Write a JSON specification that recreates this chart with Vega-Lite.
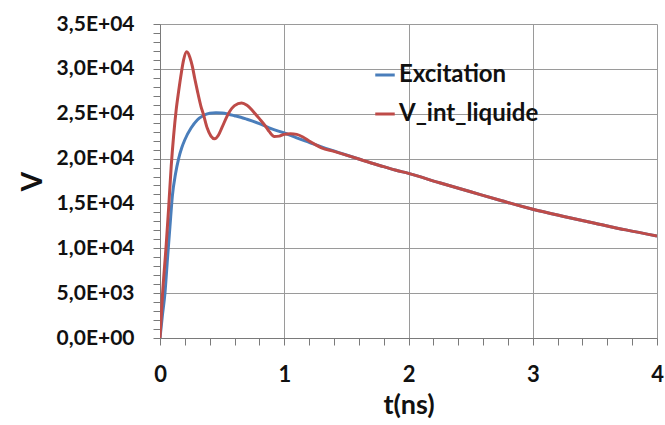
{
  "$schema": "https://vega.github.io/schema/vega-lite/v6.json",
  "width": 497,
  "height": 314,
  "autosize": {"type": "none"},
  "padding": {"left": 160, "top": 24, "right": 8, "bottom": 87},
  "background": "white",
  "config": {"view": {"stroke": null}, "font": "Lato"},
  "data": {"values": [
    {"t": 0, "V": 0, "s": "Excitation"},
    {"t": 0.02, "V": 2600, "s": "Excitation"},
    {"t": 0.04, "V": 5000, "s": "Excitation"},
    {"t": 0.06, "V": 8800, "s": "Excitation"},
    {"t": 0.08, "V": 12400, "s": "Excitation"},
    {"t": 0.1, "V": 15900, "s": "Excitation"},
    {"t": 0.125, "V": 18300, "s": "Excitation"},
    {"t": 0.15, "V": 20000, "s": "Excitation"},
    {"t": 0.175, "V": 21200, "s": "Excitation"},
    {"t": 0.2, "V": 22100, "s": "Excitation"},
    {"t": 0.25, "V": 23400, "s": "Excitation"},
    {"t": 0.3, "V": 24300, "s": "Excitation"},
    {"t": 0.35, "V": 24800, "s": "Excitation"},
    {"t": 0.4, "V": 25050, "s": "Excitation"},
    {"t": 0.45, "V": 25120, "s": "Excitation"},
    {"t": 0.5, "V": 25080, "s": "Excitation"},
    {"t": 0.55, "V": 24950, "s": "Excitation"},
    {"t": 0.6, "V": 24780, "s": "Excitation"},
    {"t": 0.65, "V": 24600, "s": "Excitation"},
    {"t": 0.7, "V": 24380, "s": "Excitation"},
    {"t": 0.8, "V": 23900, "s": "Excitation"},
    {"t": 0.9, "V": 23300, "s": "Excitation"},
    {"t": 1.0, "V": 22850, "s": "Excitation"},
    {"t": 1.1, "V": 22300, "s": "Excitation"},
    {"t": 1.2, "V": 21800, "s": "Excitation"},
    {"t": 1.3, "V": 21300, "s": "Excitation"},
    {"t": 1.4, "V": 20850, "s": "Excitation"},
    {"t": 1.5, "V": 20400, "s": "Excitation"},
    {"t": 1.6, "V": 19950, "s": "Excitation"},
    {"t": 1.7, "V": 19500, "s": "Excitation"},
    {"t": 1.8, "V": 19100, "s": "Excitation"},
    {"t": 1.9, "V": 18700, "s": "Excitation"},
    {"t": 2.0, "V": 18350, "s": "Excitation"},
    {"t": 2.25, "V": 17300, "s": "Excitation"},
    {"t": 2.5, "V": 16300, "s": "Excitation"},
    {"t": 2.75, "V": 15300, "s": "Excitation"},
    {"t": 3.0, "V": 14350, "s": "Excitation"},
    {"t": 3.25, "V": 13550, "s": "Excitation"},
    {"t": 3.5, "V": 12800, "s": "Excitation"},
    {"t": 3.75, "V": 12050, "s": "Excitation"},
    {"t": 4.0, "V": 11370, "s": "Excitation"},
    {"t": 0, "V": 0, "s": "V_int_liquide"},
    {"t": 0.02, "V": 4800, "s": "V_int_liquide"},
    {"t": 0.05, "V": 10400, "s": "V_int_liquide"},
    {"t": 0.07, "V": 14600, "s": "V_int_liquide"},
    {"t": 0.09, "V": 19100, "s": "V_int_liquide"},
    {"t": 0.11, "V": 22600, "s": "V_int_liquide"},
    {"t": 0.13, "V": 25400, "s": "V_int_liquide"},
    {"t": 0.15, "V": 27500, "s": "V_int_liquide"},
    {"t": 0.17, "V": 29400, "s": "V_int_liquide"},
    {"t": 0.19, "V": 31000, "s": "V_int_liquide"},
    {"t": 0.215, "V": 31900, "s": "V_int_liquide"},
    {"t": 0.24, "V": 31300, "s": "V_int_liquide"},
    {"t": 0.26, "V": 30300, "s": "V_int_liquide"},
    {"t": 0.28, "V": 28900, "s": "V_int_liquide"},
    {"t": 0.3, "V": 27600, "s": "V_int_liquide"},
    {"t": 0.33, "V": 25800, "s": "V_int_liquide"},
    {"t": 0.35, "V": 24900, "s": "V_int_liquide"},
    {"t": 0.38, "V": 23400, "s": "V_int_liquide"},
    {"t": 0.41, "V": 22500, "s": "V_int_liquide"},
    {"t": 0.44, "V": 22200, "s": "V_int_liquide"},
    {"t": 0.47, "V": 22600, "s": "V_int_liquide"},
    {"t": 0.5, "V": 23500, "s": "V_int_liquide"},
    {"t": 0.55, "V": 25000, "s": "V_int_liquide"},
    {"t": 0.6, "V": 25900, "s": "V_int_liquide"},
    {"t": 0.657, "V": 26200, "s": "V_int_liquide"},
    {"t": 0.7, "V": 25950, "s": "V_int_liquide"},
    {"t": 0.75, "V": 25250, "s": "V_int_liquide"},
    {"t": 0.8, "V": 24450, "s": "V_int_liquide"},
    {"t": 0.85, "V": 23600, "s": "V_int_liquide"},
    {"t": 0.88, "V": 23000, "s": "V_int_liquide"},
    {"t": 0.92, "V": 22450, "s": "V_int_liquide"},
    {"t": 0.96, "V": 22500, "s": "V_int_liquide"},
    {"t": 1.0, "V": 22700, "s": "V_int_liquide"},
    {"t": 1.05, "V": 22780, "s": "V_int_liquide"},
    {"t": 1.1, "V": 22700, "s": "V_int_liquide"},
    {"t": 1.15, "V": 22400, "s": "V_int_liquide"},
    {"t": 1.2, "V": 21950, "s": "V_int_liquide"},
    {"t": 1.25, "V": 21550, "s": "V_int_liquide"},
    {"t": 1.3, "V": 21200, "s": "V_int_liquide"},
    {"t": 1.4, "V": 20800, "s": "V_int_liquide"},
    {"t": 1.5, "V": 20380, "s": "V_int_liquide"},
    {"t": 1.6, "V": 19950, "s": "V_int_liquide"},
    {"t": 1.7, "V": 19500, "s": "V_int_liquide"},
    {"t": 1.8, "V": 19100, "s": "V_int_liquide"},
    {"t": 1.9, "V": 18700, "s": "V_int_liquide"},
    {"t": 2.0, "V": 18350, "s": "V_int_liquide"},
    {"t": 2.25, "V": 17300, "s": "V_int_liquide"},
    {"t": 2.5, "V": 16300, "s": "V_int_liquide"},
    {"t": 2.75, "V": 15300, "s": "V_int_liquide"},
    {"t": 3.0, "V": 14350, "s": "V_int_liquide"},
    {"t": 3.25, "V": 13550, "s": "V_int_liquide"},
    {"t": 3.5, "V": 12800, "s": "V_int_liquide"},
    {"t": 3.75, "V": 12050, "s": "V_int_liquide"},
    {"t": 4.0, "V": 11370, "s": "V_int_liquide"}
  ]},
  "mark": {"type": "line", "strokeWidth": 3, "interpolate": "monotone", "clip": true},
  "encoding": {
    "x": {
      "field": "t", "type": "quantitative",
      "scale": {"domain": [0, 4], "nice": false, "zero": false},
      "axis": {
        "title": "t(ns)",
        "values": [0, 0.2, 0.4, 0.6, 0.8, 1, 1.2, 1.4, 1.6, 1.8, 2, 2.2, 2.4, 2.6, 2.8, 3, 3.2, 3.4, 3.6, 3.8, 4],
        "labelExpr": "datum.value % 1 == 0 ? format(datum.value, 'd') : ''",
        "gridOpacity": {"condition": {"test": "datum.value % 1 == 0", "value": 1}, "value": 0},
        "gridColor": "#9a9a9a",
        "domainColor": "#7a7a7a",
        "tickColor": "#7a7a7a",
        "tickSize": 7,
        "labelPadding": 19,
        "labelFontSize": 22,
        "labelFontWeight": "bold",
        "labelColor": "#111111",
        "labelOverlap": false,
        "labelFlush": false,
        "titleFontSize": 27,
        "titleFontWeight": "bold",
        "titleColor": "#111111",
        "titlePadding": 7
      }
    },
    "y": {
      "field": "V", "type": "quantitative",
      "scale": {"domain": [0, 35000], "nice": false},
      "axis": {
        "title": "V",
        "values": [0, 1000, 2000, 3000, 4000, 5000, 6000, 7000, 8000, 9000, 10000, 11000, 12000, 13000, 14000, 15000, 16000, 17000, 18000, 19000, 20000, 21000, 22000, 23000, 24000, 25000, 26000, 27000, 28000, 29000, 30000, 31000, 32000, 33000, 34000, 35000],
        "labelExpr": "datum.value % 5000 != 0 ? '' : datum.value == 0 ? '0,0E+00' : datum.value < 10000 ? replace(format(datum.value / 1000, '.1f'), '.', ',') + 'E+03' : replace(format(datum.value / 10000, '.1f'), '.', ',') + 'E+04'",
        "gridOpacity": {"condition": {"test": "datum.value % 5000 == 0", "value": 1}, "value": 0},
        "gridColor": "#9a9a9a",
        "domainColor": "#7a7a7a",
        "tickColor": "#7a7a7a",
        "tickSize": 7,
        "labelPadding": 19,
        "labelFontSize": 21,
        "labelFontWeight": "bold",
        "labelColor": "#111111",
        "labelOverlap": false,
        "labelFlush": false,
        "titleFontSize": 28,
        "titleFontWeight": "bold",
        "titleColor": "#111111",
        "titlePadding": 9
      }
    },
    "color": {
      "field": "s", "type": "nominal",
      "scale": {"domain": ["Excitation", "V_int_liquide"], "range": ["#4A7EBB", "#BE4B48"]},
      "legend": {
        "orient": "none",
        "legendX": 213,
        "legendY": 39,
        "title": null,
        "symbolType": "stroke",
        "symbolStrokeWidth": 3,
        "symbolSize": 380,
        "labelFontSize": 24,
        "labelFontWeight": "bold",
        "labelColor": "#111111",
        "rowPadding": 15,
        "padding": 0,
        "labelOffset": 2
      }
    }
  }
}
